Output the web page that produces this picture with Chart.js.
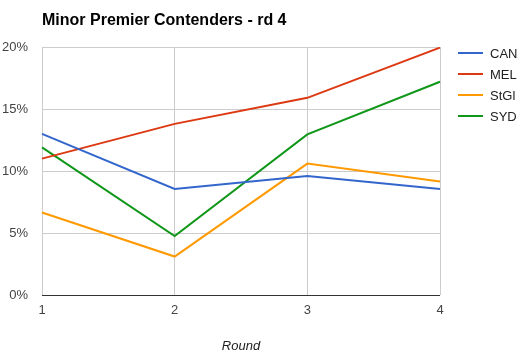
<!DOCTYPE html>
<html>
<head>
<meta charset="utf-8">
<script src="https://cdn.jsdelivr.net/npm/chart.js@4"></script>
<style>
  html, body { margin: 0; padding: 0; background: #fff; }
  #wrap { width: 529px; height: 358px; }
</style>
</head>
<body>
<div id="wrap"><canvas id="chart" width="529" height="358"></canvas></div>
<script>
// Data
const rounds = ['1', '2', '3', '4'];
const teams = ['CAN', 'MEL', 'StGl', 'SYD'];
const colors = ['#3366cc', '#dc3912', '#ff9900', '#109618'];
const canVals = [13.0, 8.55, 9.6, 8.55];
const melVals = [11.0, 13.8, 15.9, 19.95];
const stglVals = [6.65, 3.1, 10.6, 9.15];
const sydVals = [11.9, 4.75, 12.95, 17.2];
const yTicks = [0, 5, 10, 15, 20];

const titleText = 'Minor Premier Contenders - rd 4';
const font = '"Liberation Sans", Arial, sans-serif';

// title + legend drawn by hand, Google-charts style
const decorations = {
    id: 'decorations',
    afterDraw(chart) {
        const ctx = chart.ctx;
        const area = chart.chartArea;
        ctx.save();
        ctx.fillStyle = '#000';
        ctx.font = 'bold 16px ' + font;
        ctx.textBaseline = 'middle';
        ctx.fillText(titleText, area.left, 21);

        ctx.font = '13px ' + font;
        chart.data.datasets.forEach((ds, i) => {
            const y = 53 + i * 21;
            ctx.strokeStyle = ds.borderColor;
            ctx.lineWidth = 2;
            ctx.beginPath();
            ctx.moveTo(458, y);
            ctx.lineTo(483, y);
            ctx.stroke();
            ctx.fillStyle = '#222';
            ctx.fillText(ds.label, 490, y + 1);
        });
        ctx.restore();
    }
};

const seriesVals = [canVals, melVals, stglVals, sydVals];

new Chart(document.getElementById('chart'), {
    type: 'line',
    data: {
        labels: rounds,
        datasets: teams.map((t, i) => ({
            label: t,
            data: seriesVals[i],
            borderColor: colors[i],
            backgroundColor: colors[i],
            borderWidth: 2,
            pointRadius: 0,
            tension: 0
        }))
    },
    options: {
        responsive: false,
        animation: false,
        layout: { padding: { top: 47, right: 89, left: 0, bottom: 0 } },
        plugins: { legend: { display: false }, title: { display: false }, tooltip: { enabled: false } },
        scales: {
            x: {
                offset: false,
                grid: { color: '#cccccc', drawTicks: false },
                border: { display: false },
                ticks: { color: '#444', font: { family: font, size: 13 }, padding: 8, maxRotation: 0 },
                title: {
                    display: true,
                    text: 'Round',
                    color: '#222',
                    font: { family: font, size: 13, style: 'italic' },
                    padding: { top: 0, bottom: 4 }
                },
                afterFit(scale) { scale.height = 63; }
            },
            y: {
                min: 0,
                max: 20,
                afterBuildTicks(scale) { scale.ticks = yTicks.map(v => ({ value: v })); },
                grid: {
                    color: c => (c.tick && c.tick.value === 0 ? '#333333' : '#cccccc'),
                    drawTicks: false
                },
                border: { display: false },
                ticks: {
                    color: '#444',
                    font: { family: font, size: 13 },
                    padding: 14,
                    callback: v => v + '%'
                },
                afterFit(scale) { scale.width = 42; }
            }
        }
    },
    plugins: [decorations]
});
</script>
</body>
</html>
